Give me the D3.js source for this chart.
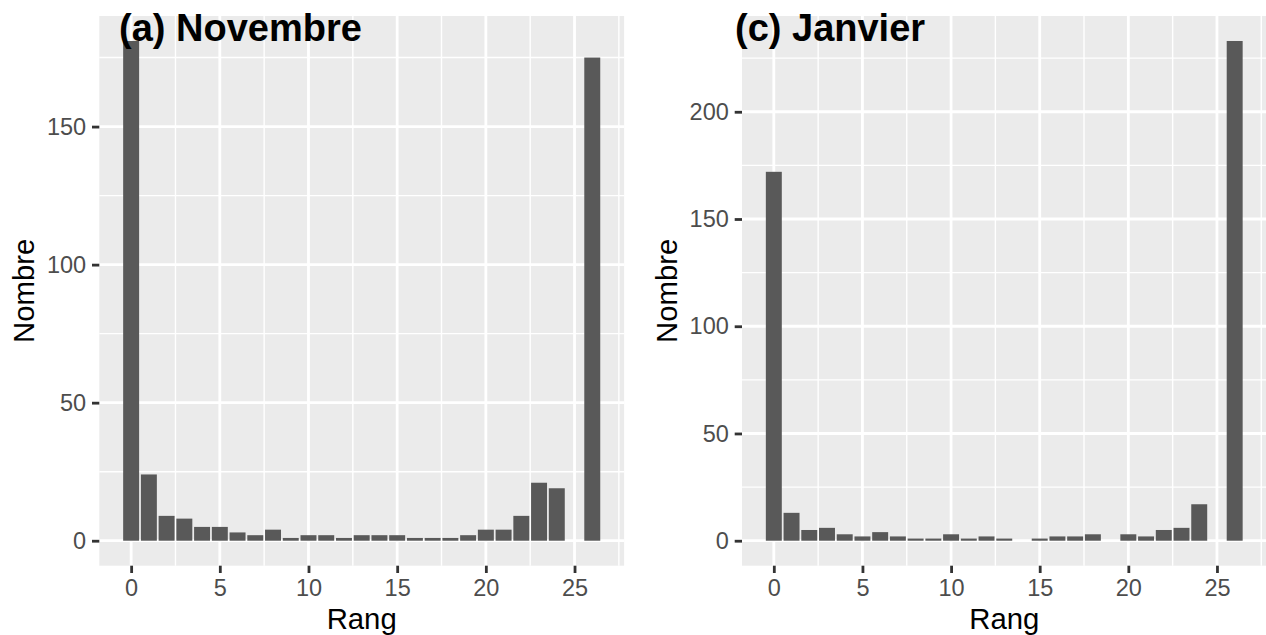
<!DOCTYPE html>
<html>
<head>
<meta charset="utf-8">
<script src="https://cdn.jsdelivr.net/npm/d3@7"></script>
<style>
  html, body { margin: 0; padding: 0; background: #ffffff; }
  svg { display: block; }
  text { font-family: "Liberation Sans", Arial, sans-serif; }
</style>
</head>
<body>
<svg id="chart" width="1266" height="635"></svg>
<script>
// ---- data ----
const ranks = d3.range(0, 27);
const novembre = [181, 24, 9, 8, 5, 5, 3, 2, 4, 1, 2, 2, 1, 2, 2, 2, 1, 1, 1, 2, 4, 4, 9, 21, 19, 0, 175];
const janvier  = [172, 13, 5, 6, 3, 2, 4, 2, 1, 1, 3, 1, 2, 1, 0, 1, 2, 2, 3, 0, 3, 2, 5, 6, 17, 0, 233];
const xTicks = [0, 5, 10, 15, 20, 25];
const xMinor = [2.5, 7.5, 12.5, 17.5, 22.5, 27.5];
const yTicksNov = [0, 50, 100, 150];
const yMinorNov = [25, 75, 125, 175];
const yTicksJan = [0, 50, 100, 150, 200];
const yMinorJan = [25, 75, 125, 175, 225];
const panels = [
  { tag: "(a) Novembre", values: novembre, yTicks: yTicksNov, yMinor: yMinorNov,
    left: 99.3, right: 624.1, tagX: 119, ytitleX: 34 },
  { tag: "(c) Janvier", values: janvier, yTicks: yTicksJan, yMinor: yMinorJan,
    left: 742, right: 1266.5, tagX: 735, ytitleX: 677 }
];

const svg = d3.select("#chart");
const panelTop = 16, panelBottom = 565.7;
const barWidth = 0.9;

panels.forEach(p => {
  const xMin = -barWidth / 2, xMax = 26 + barWidth / 2;
  const xPad = (xMax - xMin) * 0.05;
  const x = d3.scaleLinear().domain([xMin - xPad, xMax + xPad]).range([p.left, p.right]);
  const yMax = d3.max(p.values);
  const y = d3.scaleLinear().domain([-0.05 * yMax, yMax * 1.05]).range([panelBottom, panelTop]);

  const g = svg.append("g");
  g.append("rect").attr("x", p.left).attr("y", panelTop)
    .attr("width", p.right - p.left).attr("height", panelBottom - panelTop).attr("fill", "#EBEBEB");

  g.selectAll(".vminor").data(xMinor).join("line")
    .attr("x1", d => x(d)).attr("x2", d => x(d)).attr("y1", panelTop).attr("y2", panelBottom)
    .attr("stroke", "#ffffff").attr("stroke-width", 1.4);
  g.selectAll(".hminor").data(p.yMinor).join("line")
    .attr("y1", d => y(d)).attr("y2", d => y(d)).attr("x1", p.left).attr("x2", p.right)
    .attr("stroke", "#ffffff").attr("stroke-width", 1.4);
  g.selectAll(".vmajor").data(xTicks).join("line")
    .attr("x1", d => x(d)).attr("x2", d => x(d)).attr("y1", panelTop).attr("y2", panelBottom)
    .attr("stroke", "#ffffff").attr("stroke-width", 2.8);
  g.selectAll(".hmajor").data(p.yTicks).join("line")
    .attr("y1", d => y(d)).attr("y2", d => y(d)).attr("x1", p.left).attr("x2", p.right)
    .attr("stroke", "#ffffff").attr("stroke-width", 2.8);

  g.selectAll(".bar").data(ranks.filter(r => p.values[r] > 0)).join("rect")
    .attr("x", r => x(r - barWidth / 2))
    .attr("width", r => x(r + barWidth / 2) - x(r - barWidth / 2))
    .attr("y", r => y(p.values[r]))
    .attr("height", r => y(0) - y(p.values[r]))
    .attr("fill", "#595959");

  const ax = g.append("g").attr("transform", `translate(0,${panelBottom})`)
    .call(d3.axisBottom(x).tickValues(xTicks).tickSize(7.3).tickPadding(5.9).tickFormat(d3.format("d")));
  const ay = g.append("g").attr("transform", `translate(${p.left},0)`)
    .call(d3.axisLeft(y).tickValues(p.yTicks).tickSize(7.3).tickPadding(5.9).tickFormat(d3.format("d")));
  [ax, ay].forEach(a => {
    a.select(".domain").remove();
    a.selectAll(".tick line").attr("stroke", "#333333").attr("stroke-width", 2.8);
    a.selectAll(".tick text").attr("fill", "#4D4D4D").style("font-size", "23.5px")
      .style("font-family", '"Liberation Sans", Arial, sans-serif');
  });

  g.append("text").attr("x", (p.left + p.right) / 2).attr("y", 629)
    .attr("text-anchor", "middle").style("font-size", "29.3px").attr("fill", "#000")
    .text("Rang");
  g.append("text").attr("transform", `translate(${p.ytitleX},${(panelTop + panelBottom) / 2}) rotate(-90)`)
    .attr("text-anchor", "middle").style("font-size", "29.3px").attr("fill", "#000")
    .text("Nombre");

  g.append("text").attr("x", p.tagX).attr("y", 41)
    .style("font-size", "38px").style("font-weight", "bold").attr("fill", "#000")
    .text(p.tag);
});
</script>
</body>
</html>
